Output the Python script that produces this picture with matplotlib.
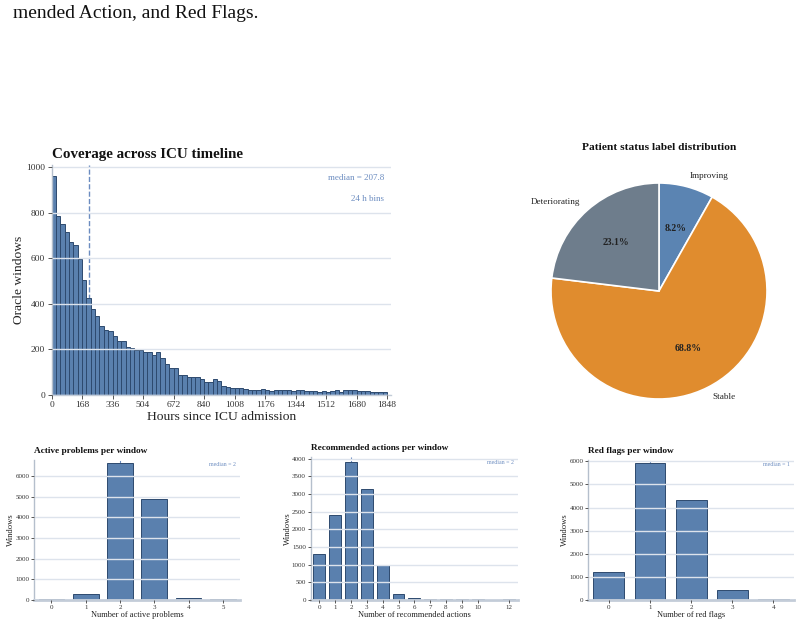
import numpy as np
import matplotlib
matplotlib.use("Agg")
import matplotlib.pyplot as plt

# ---------------- data ----------------
hist_bin_hours = 24
hist_counts = [963, 788, 753, 717, 674, 657, 599, 503, 426, 377,
               347, 302, 285, 280, 259, 238, 237, 211, 208, 197,
               196, 188, 190, 175, 190, 164, 136, 118, 117, 88,
               88, 78, 77, 78, 70, 59, 58, 70, 61, 41,
               34, 29, 31, 31, 26, 20, 20, 20, 25, 22,
               17, 20, 20, 20, 20, 16, 22, 22, 17, 17,
               17, 15, 19, 15, 17, 22, 15, 20, 20, 20,
               17, 17, 17, 13, 13, 12, 12]
hist_median = 207.8
hist_xticks = [0, 168, 336, 504, 672, 840, 1008, 1176, 1344, 1512, 1680, 1848]

status_labels = ["Improving", "Stable", "Deteriorating"]
status_pcts = [8.2, 68.8, 23.1]

problems_x = [0, 1, 2, 3, 4, 5]
problems_counts = [60, 275, 6650, 4880, 110, 35]
problems_median = 2

actions_x = [0, 1, 2, 3, 4, 5, 6, 7, 8, 9, 10, 12]
actions_counts = [1295, 2402, 3896, 3139, 993, 161, 57, 28, 25, 22, 20, 15]
actions_median = 2

flags_x = [0, 1, 2, 3, 4]
flags_counts = [1212, 5930, 4314, 418, 29]
flags_median = 1

# ---------------- style ----------------
W, H = 801, 625
plt.rcParams['font.family'] = ['Liberation Serif', 'DejaVu Serif']
BAR = "#5a80ae"
EDGE = "#2e4a6e"
GRID = "#dde3ec"
SPINE = "#c3ccd8"
MED = "#6b8cc0"
TXT = "#222222"

fig = plt.figure(figsize=(W / 100, H / 100), dpi=100)


def px_axes(l, t, r, b):
    return fig.add_axes([l / W, 1 - b / H, (r - l) / W, (b - t) / H])


def style(ax, tick_fs, ticklen, bottom_lw):
    for s in ["top", "right"]:
        ax.spines[s].set_visible(False)
    ax.spines["left"].set_color("#b5bfcc")
    ax.spines["left"].set_linewidth(1.0)
    ax.spines["bottom"].set_color(SPINE)
    ax.spines["bottom"].set_linewidth(bottom_lw)
    ax.set_axisbelow(False)
    ax.grid(axis="y", color=GRID, lw=1.0, zorder=2.5)
    ax.tick_params(labelsize=tick_fs, length=ticklen, width=0.7, color="#555555",
                   labelcolor="#333333", pad=1.5)


fig.text(13 / W, 1 - 18 / H, "mended Action, and Red Flags.", fontsize=14,
         color="#111111", va="baseline", ha="left")

# ---------------- histogram ----------------
ax = px_axes(51.5, 165, 391, 395)
edges = np.arange(0, hist_bin_hours * (len(hist_counts) + 1), hist_bin_hours)
ax.bar(edges[:-1], hist_counts, width=hist_bin_hours, align="edge",
       color=BAR, edgecolor=EDGE, linewidth=0.7, zorder=1)
ax.axvline(hist_median, color=MED, ls="--", lw=1.0, zorder=0.5)
ax.set_xlim(0, 1870)
ax.set_ylim(0, 1010)
ax.set_xticks(hist_xticks)
ax.set_yticks([0, 200, 400, 600, 800, 1000])
style(ax, 6.8, 3, 1.0)
ax.set_xlabel("Hours since ICU admission", fontsize=9.7, color=TXT, labelpad=1)
ax.set_ylabel("Oracle windows", fontsize=9.7, color=TXT, labelpad=1)
ax.set_title("Coverage across ICU timeline", loc="left", fontsize=10.8,
             fontweight="bold", pad=5, color="#111111")
ax.text(0.979, 0.945, f"median = {hist_median}", transform=ax.transAxes,
        ha="right", va="center", fontsize=6.5, color=MED)
ax.text(0.979, 0.853, f"{hist_bin_hours} h bins", transform=ax.transAxes,
        ha="right", va="center", fontsize=6.5, color=MED)

# ---------------- pie ----------------
axp = px_axes(524, 156, 794, 426)
pie_colors = ["#5b84b2", "#e08c2e", "#6e7d8c"]
_pct_iter = iter(status_pcts)
wedges, texts, autotexts = axp.pie(
    status_pcts, labels=status_labels, colors=pie_colors, startangle=90,
    counterclock=False, autopct=lambda p: f"{next(_pct_iter):.1f}%",
    pctdistance=0.6, labeldistance=1.1,
    wedgeprops=dict(edgecolor="white", linewidth=1.2),
    textprops=dict(fontsize=6.6, color="#222222"))
for t in autotexts:
    t.set_fontweight("bold")
    t.set_fontsize(7)
axp.set_title("Patient status label distribution", fontsize=8.2,
              fontweight="bold", pad=4, color="#111111")

# ---------------- bottom bar charts ----------------
def small_bar(box, xs, counts, med, xlim, ylim, yticks, xticks, title, xlabel):
    a = px_axes(*box)
    a.bar(xs, counts, width=0.75, color=BAR, edgecolor=EDGE, linewidth=0.7, zorder=1)
    a.axvline(med, color=MED, ls="--", lw=0.8, zorder=0.5)
    a.set_xlim(*xlim)
    a.set_ylim(*ylim)
    a.set_yticks(yticks)
    a.set_xticks(xticks)
    style(a, 5.0, 2, 2.0)
    a.set_xlabel(xlabel, fontsize=6, color=TXT, labelpad=1)
    a.set_ylabel("Windows", fontsize=6.2, color=TXT, labelpad=0)
    a.set_title(title, loc="left", fontsize=6.7, fontweight="bold", pad=5,
                color="#111111")
    a.text(0.98, 0.965, f"median = {med}", transform=a.transAxes, ha="right",
           va="center", fontsize=4.2, color=MED)
    return a


small_bar((34.3, 460, 240, 600), problems_x, problems_counts, problems_median,
          (-0.5, 5.5), (0, 6780), range(0, 6001, 1000), problems_x,
          "Active problems per window", "Number of active problems")
small_bar((310.7, 457, 518, 600), actions_x, actions_counts, actions_median,
          (-0.55, 12.55), (0, 4047), range(0, 4001, 500), actions_x,
          "Recommended actions per window", "Number of recommended actions")
small_bar((588.3, 460, 794, 600), flags_x, flags_counts, flags_median,
          (-0.5, 4.5), (0, 6060), range(0, 6001, 1000), flags_x,
          "Red flags per window", "Number of red flags")

fig.savefig("out.png", dpi=100)
